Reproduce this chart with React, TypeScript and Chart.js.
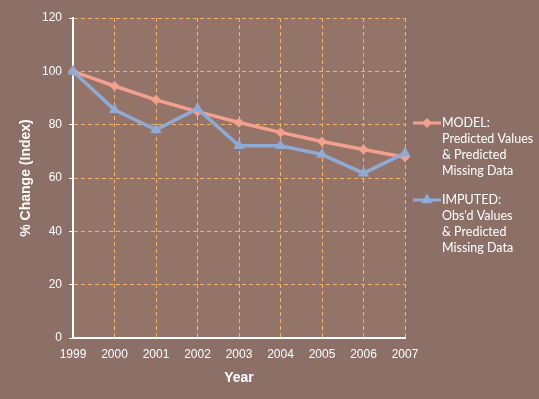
import React, { useEffect, useRef } from 'react';
import { Chart, registerables } from 'chart.js';

Chart.register(...registerables);

const years = ['1999', '2000', '2001', '2002', '2003', '2004', '2005', '2006', '2007'];
const modelValues = [100, 94.5, 89.3, 84.9, 80.8, 77.1, 73.7, 70.7, 67.8];
const imputedValues = [100, 85.6, 78.1, 86.0, 72.1, 72.1, 68.8, 61.8, 69.3];
const yMin = 0;
const yMax = 120;
const yStep = 20;
const modelLabel = ['MODEL:', 'Predicted Values', '& Predicted', 'Missing Data'];
const imputedLabel = ['IMPUTED:', "Obs'd Values", '& Predicted', 'Missing Data'];
const xTitle = 'Year';
const yTitle = '% Change (Index)';

const bgColor = '#8C6F66';
const plotColor = '#947369';
const gridColor = '#F5B46A';
const modelColor = '#F4A08E';
const imputedColor = '#8FAAD4';
const textColor = '#FFFFFF';
const tickFont = { family: '"Liberation Sans", Arial, sans-serif', size: 12 };
const titleFont = { family: '"Liberation Sans", Arial, sans-serif', size: 14, weight: 'bold' as const };

function drawMarker(ctx: CanvasRenderingContext2D, style: string, x: number, y: number, r: number, color: string) {
  ctx.beginPath();
  if (style === 'rectRot') {
    ctx.moveTo(x, y - r);
    ctx.lineTo(x + r, y);
    ctx.lineTo(x, y + r);
    ctx.lineTo(x - r, y);
  } else {
    let rad = 0;
    ctx.moveTo(x + Math.sin(rad) * r, y - Math.cos(rad) * r);
    rad += (2 * Math.PI) / 3;
    ctx.lineTo(x + Math.sin(rad) * r, y - Math.cos(rad) * r);
    rad += (2 * Math.PI) / 3;
    ctx.lineTo(x + Math.sin(rad) * r, y - Math.cos(rad) * r);
  }
  ctx.closePath();
  ctx.fillStyle = color;
  ctx.fill();
}

const backgroundPlugin = {
  id: 'bgPlugin',
  beforeDraw(chart: any) {
    const { ctx, chartArea, width, height } = chart;
    ctx.save();
    ctx.fillStyle = bgColor;
    ctx.fillRect(0, 0, width, height);
    ctx.fillStyle = plotColor;
    ctx.fillRect(chartArea.left, chartArea.top, chartArea.right - chartArea.left, chartArea.bottom - chartArea.top);
    ctx.restore();
  },
};

const sideLegendPlugin = {
  id: 'sideLegend',
  afterDraw(chart: any) {
    const { ctx, chartArea } = chart;
    const entries = [
      { lines: modelLabel, color: modelColor, style: 'rectRot', r: 5 },
      { lines: imputedLabel, color: imputedColor, style: 'triangle', r: 6.5 },
    ];
    ctx.save();
    ctx.font = '12.5px Lato, "Open Sans", sans-serif';
    ctx.textBaseline = 'middle';
    ctx.textAlign = 'left';
    let y = chartArea.top + 105;
    const lx = chartArea.right + 8;
    for (const e of entries) {
      ctx.strokeStyle = e.color;
      ctx.lineWidth = 3;
      ctx.beginPath();
      ctx.moveTo(lx, y);
      ctx.lineTo(lx + 28, y);
      ctx.stroke();
      drawMarker(ctx, e.style, lx + 14, y, e.r, e.color);
      ctx.fillStyle = textColor;
      e.lines.forEach((t, i) => ctx.fillText(t, lx + 29, y + i * 16));
      y += 77;
    }
    ctx.restore();
  },
};

export default function App() {
  const ref = useRef<HTMLCanvasElement | null>(null);
  useEffect(() => {
    if (!ref.current) return;
    const chart = new Chart(ref.current, {
      type: 'line',
      data: {
        labels: years,
        datasets: [
          {
            label: modelLabel.join(' '),
            data: modelValues,
            borderColor: modelColor,
            backgroundColor: modelColor,
            borderWidth: 3.5,
            pointStyle: 'rectRot',
            pointRadius: 5,
            pointBorderWidth: 0,
            tension: 0,
            order: 2,
          },
          {
            label: imputedLabel.join(' '),
            data: imputedValues,
            borderColor: imputedColor,
            backgroundColor: imputedColor,
            borderWidth: 3.5,
            pointStyle: 'triangle',
            pointRadius: 6.5,
            pointBorderWidth: 0,
            tension: 0,
            order: 1,
          },
        ],
      },
      options: {
        animation: false,
        responsive: false,
        devicePixelRatio: 1,
        layout: { padding: { left: 0, top: 18, right: 134, bottom: 0 } },
        plugins: {
          legend: { display: false },
          tooltip: { enabled: false },
        },
        scales: {
          x: {
            type: 'category',
            offset: false,
            grid: {
              color: gridColor,
              lineWidth: 1,
              drawTicks: false,
              offset: false,
            },
            border: { color: textColor, width: 2, dash: [4, 3] },
            ticks: { color: textColor, font: tickFont, padding: 9, maxRotation: 0, autoSkip: false },
            title: { display: true, text: xTitle, color: textColor, font: titleFont, padding: { top: 0, bottom: 12 } },
            afterFit: (scale: any) => {
              scale.height = 61;
            },
          },
          y: {
            min: yMin,
            max: yMax,
            ticks: { stepSize: yStep, color: textColor, font: tickFont, padding: 7 },
            grid: {
              color: gridColor,
              lineWidth: 1,
              drawTicks: true,
              tickLength: 4,
              tickColor: textColor,
              tickBorderDash: [],
            },
            border: { color: textColor, width: 2, dash: [4, 3] },
            title: { display: true, text: yTitle, color: textColor, font: titleFont, padding: { top: 18, bottom: 0 } },
            afterFit: (scale: any) => {
              scale.width = 73;
            },
          },
        },
      },
      plugins: [backgroundPlugin, sideLegendPlugin],
    });
    return () => chart.destroy();
  }, []);
  return (
    <div style={{ position: 'absolute', left: 0, top: 0, width: 539, height: 399 }}>
      <canvas ref={ref} width={539} height={399} />
    </div>
  );
}
